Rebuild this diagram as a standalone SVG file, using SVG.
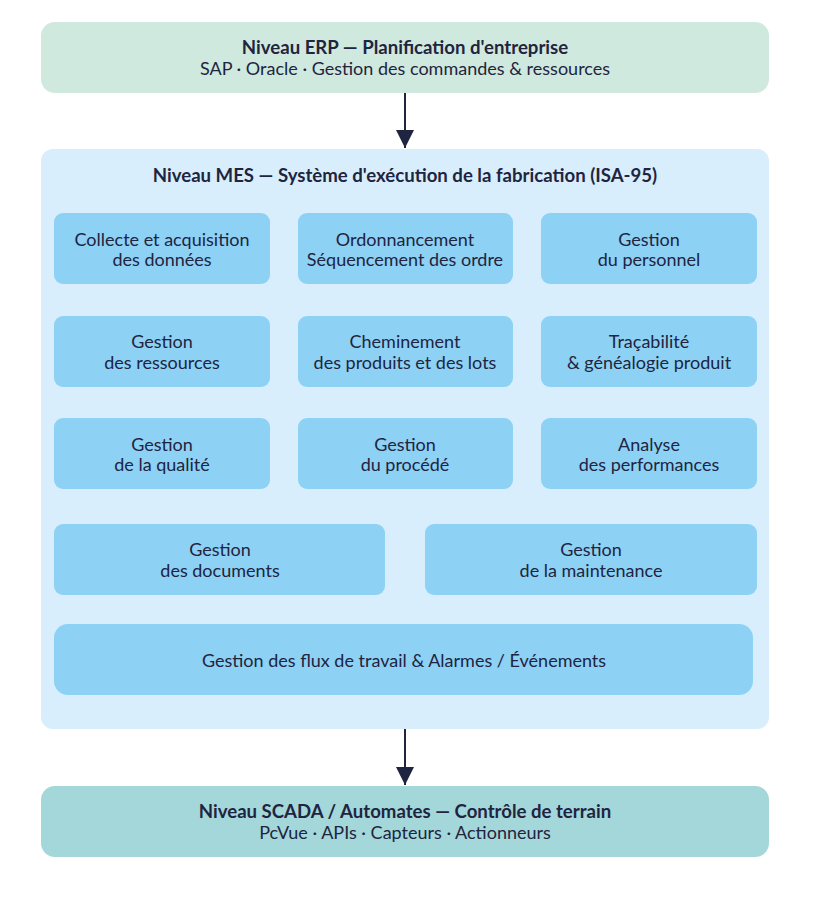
<svg xmlns="http://www.w3.org/2000/svg" width="826" height="909" viewBox="0 0 826 909">
<defs>
<style>
text{font-family:Lato,"Noto Sans","Liberation Sans",sans-serif;fill:#1f2440;text-anchor:middle;font-size:18px}
.b{font-weight:bold;font-size:18.6px}
.mod{fill:#8dd1f5}
</style>
<marker id="ah" viewBox="0 0 10 10" refX="10" refY="5" markerWidth="18" markerHeight="18" markerUnits="userSpaceOnUse" orient="auto">
<path d="M0,0 L10,5 L0,10 z" fill="#1f2440"/>
</marker>
</defs>
<rect width="826" height="909" fill="#ffffff"/>
<g id="erp">
<rect x="41" y="22" width="728" height="71" rx="14" fill="#cfe9de"/>
<text class="b" x="405" y="54">Niveau ERP — Planification d'entreprise</text>
<text x="405" y="75">SAP · Oracle · Gestion des commandes &amp; ressources</text>
</g>
<g id="mes">
<rect x="41" y="149" width="728" height="580" rx="12" fill="#d8eefc"/>
<text class="b" x="405" y="182">Niveau MES — Système d'exécution de la fabrication (ISA-95)</text>
</g>
<g id="m1"><rect class="mod" x="54" y="213" width="216" height="71" rx="9"/><text x="162" y="246">Collecte et acquisition</text><text x="162" y="266">des données</text></g>
<g id="m2"><rect class="mod" x="298" y="213" width="215" height="71" rx="9"/><text x="405" y="246">Ordonnancement</text><text x="405" y="266">Séquencement des ordre</text></g>
<g id="m3"><rect class="mod" x="541" y="213" width="216" height="71" rx="9"/><text x="649" y="246">Gestion</text><text x="649" y="266">du personnel</text></g>
<g id="m4"><rect class="mod" x="54" y="316" width="216" height="71" rx="9"/><text x="162" y="348">Gestion</text><text x="162" y="369">des ressources</text></g>
<g id="m5"><rect class="mod" x="298" y="316" width="215" height="71" rx="9"/><text x="405" y="348">Cheminement</text><text x="405" y="369">des produits et des lots</text></g>
<g id="m6"><rect class="mod" x="541" y="316" width="216" height="71" rx="9"/><text x="649" y="348">Traçabilité</text><text x="649" y="369">&amp; généalogie produit</text></g>
<g id="m7"><rect class="mod" x="54" y="418" width="216" height="71" rx="9"/><text x="162" y="451">Gestion</text><text x="162" y="471">de la qualité</text></g>
<g id="m8"><rect class="mod" x="298" y="418" width="215" height="71" rx="9"/><text x="405" y="451">Gestion</text><text x="405" y="471">du procédé</text></g>
<g id="m9"><rect class="mod" x="541" y="418" width="216" height="71" rx="9"/><text x="649" y="451">Analyse</text><text x="649" y="471">des performances</text></g>
<g id="m10"><rect class="mod" x="54" y="524" width="331" height="71" rx="9"/><text x="220" y="556">Gestion</text><text x="220" y="577">des documents</text></g>
<g id="m11"><rect class="mod" x="425" y="524" width="332" height="71" rx="9"/><text x="591" y="556">Gestion</text><text x="591" y="577">de la maintenance</text></g>
<g id="m12"><rect class="mod" x="54" y="624" width="699" height="71" rx="14"/><text x="404" y="667">Gestion des flux de travail &amp; Alarmes / Événements</text></g>
<g id="scada">
<rect x="41" y="786" width="728" height="71" rx="14" fill="#a3d7d9"/>
<text class="b" x="405" y="818">Niveau SCADA / Automates — Contrôle de terrain</text>
<text x="405" y="839">PcVue · APIs · Capteurs · Actionneurs</text>
</g>
<g id="connectors" stroke="#1f2440" stroke-width="2" fill="none">
<line x1="405" y1="93" x2="405" y2="148" marker-end="url(#ah)"/>
<line x1="405" y1="729" x2="405" y2="785" marker-end="url(#ah)"/>
</g>
</svg>
